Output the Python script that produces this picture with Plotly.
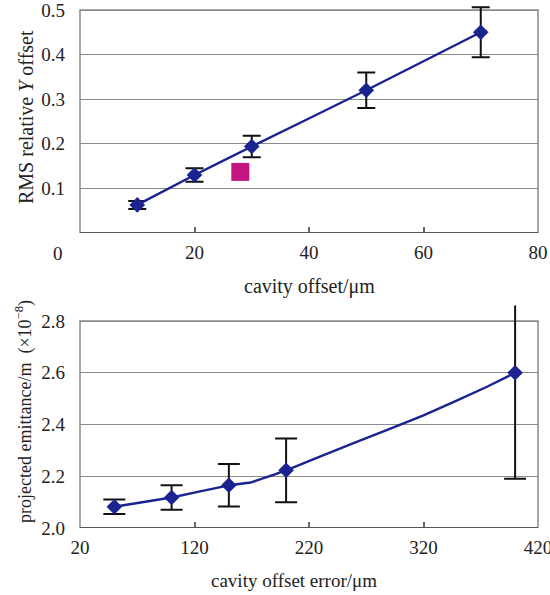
import plotly.graph_objects as go

# ---- data: top panel ----
top_x = [10, 20, 30, 50, 70]
top_y = [0.063, 0.130, 0.194, 0.320, 0.450]
top_err = [0.009, 0.015, 0.024, 0.040, 0.056]
top_extra_x = [28]
top_extra_y = [0.137]
top_xticks = [20, 40, 60, 80]
top_yticks = [0.1, 0.2, 0.3, 0.4, 0.5]

# ---- data: bottom panel ----
bot_x = [50, 100, 150, 200, 400]
bot_y = [2.082, 2.118, 2.165, 2.223, 2.600]
bot_err = [0.028, 0.047, 0.082, 0.123, 0.410]
bot_line_x = [50, 100, 150, 169, 200, 260, 320, 375, 400]
bot_line_y = [2.082, 2.118, 2.165, 2.176, 2.223, 2.330, 2.435, 2.545, 2.600]
bot_xticks = [20, 120, 220, 320, 420]
bot_yticks = [2.0, 2.2, 2.4, 2.6, 2.8]

NAVY = "#1a2390"
MAG = "#c4147f"
FONT = "Liberation Serif"
TXT = "#222222"

W, H = 550, 595
ML, MR, MT, MB = 80, 12, 3, 67

fig = go.Figure()

# top panel
fig.add_trace(go.Scatter(
    x=top_x, y=top_y, mode="lines+markers", xaxis="x", yaxis="y",
    line=dict(color=NAVY, width=2.4, shape="spline", smoothing=0.4),
    marker=dict(symbol="diamond", size=12, color=NAVY),
    error_y=dict(type="data", array=top_err, color="#111111", thickness=2, width=9),
    cliponaxis=False, showlegend=False))
fig.add_trace(go.Scatter(
    x=top_extra_x, y=top_extra_y, mode="markers", xaxis="x", yaxis="y",
    marker=dict(symbol="square", size=18, color=MAG),
    showlegend=False))

# bottom panel
fig.add_trace(go.Scatter(
    x=bot_line_x, y=bot_line_y, mode="lines", xaxis="x2", yaxis="y2",
    line=dict(color=NAVY, width=2.4, shape="spline", smoothing=0.2), showlegend=False))
fig.add_trace(go.Scatter(
    x=bot_x, y=bot_y, mode="markers", xaxis="x2", yaxis="y2",
    marker=dict(symbol="diamond", size=12, color=NAVY),
    error_y=dict(type="data", array=bot_err, color="#111111", thickness=2, width=11),
    cliponaxis=False, showlegend=False))

tickfont = dict(family=FONT, size=19, color=TXT)
axis_common = dict(showline=False, zeroline=False, tickfont=tickfont,
                   automargin=False, ticklabeloverflow="allow")

# axis ranges extend slightly above the framed area so that tall error bars show
TOP_YMAX = 0.5157
BOT_YMAX = 2.86

fig.update_layout(
    template="none",
    width=W, height=H,
    margin=dict(l=ML, r=MR, t=MT, b=MB),
    paper_bgcolor="white", plot_bgcolor="rgba(0,0,0,0)",
    font=dict(family=FONT, color=TXT),
    xaxis=dict(domain=[0, 1], anchor="y", range=[0, 80], tickvals=top_xticks,
               ticks="inside", ticklen=6, tickcolor="#666666", tickwidth=1.5,
               showgrid=False, ticklabelstandoff=6, **axis_common),
    yaxis=dict(domain=[0.5619, 1], anchor="x", range=[0, TOP_YMAX], tickvals=top_yticks,
               ticktext=["0.1", "0.2", "0.3", "0.4", "0.5"],
               showgrid=True, gridcolor="#8a8a8a", gridwidth=1, ticks="",
               ticklabelstandoff=14, **axis_common),
    xaxis2=dict(domain=[0, 1], anchor="y2", range=[20, 420], tickvals=bot_xticks,
                ticks="inside", ticklen=6, tickcolor="#666666", tickwidth=1.5,
                showgrid=False, ticklabelstandoff=6, **axis_common),
    yaxis2=dict(domain=[0, 0.4238], anchor="x2", range=[2.0, BOT_YMAX], tickvals=bot_yticks,
                ticktext=["2.0", "2.2", "2.4", "2.6", "2.8"],
                showgrid=True, gridcolor="#8a8a8a", gridwidth=1, ticks="",
                ticklabelstandoff=14, **axis_common),
)

# panel frames (top edge at the last tick value)
frames = [("x domain", "y", 0.0, top_yticks[-1]),
          ("x2 domain", "y2", bot_yticks[0], bot_yticks[-1])]
for xr, yr, y0, y1 in frames:
    fig.add_shape(type="rect", xref=xr, yref=yr, x0=0, x1=1, y0=y0, y1=y1,
                  line=dict(color="#8a8a8a", width=1.5), layer="below")
    fig.add_shape(type="line", xref=xr, yref=yr, x0=0, x1=1, y0=y0, y1=y0,
                  line=dict(color="#555555", width=2), layer="above")

# helpers: page pixel -> paper coordinate
PLOT_W = W - ML - MR
PLOT_H = H - MT - MB
def px_x(x):
    return (x - ML) / PLOT_W
def px_y(y):
    return (H - MB - y) / PLOT_H

# stray "0" label of the top panel
fig.add_annotation(text="0", xref="paper", yref="paper", x=px_x(58), y=px_y(253),
                   showarrow=False, font=dict(family=FONT, size=19, color=TXT),
                   xanchor="center", yanchor="middle")

# axis titles
fig.add_annotation(text="cavity offset/μm", xref="paper", yref="paper",
                   x=px_x(309), y=px_y(286), showarrow=False,
                   font=dict(family=FONT, size=20, color=TXT),
                   xanchor="center", yanchor="middle")
fig.add_annotation(text="RMS relative <i>Y</i> offset", xref="paper", yref="paper",
                   x=px_x(26), y=px_y(117), showarrow=False,
                   font=dict(family=FONT, size=20, color=TXT),
                   textangle=-90, xanchor="center", yanchor="middle")
fig.add_annotation(text="cavity offset error/μm", xref="paper", yref="paper",
                   x=px_x(294), y=px_y(580), showarrow=False,
                   font=dict(family=FONT, size=19, color=TXT),
                   xanchor="center", yanchor="middle")
fig.add_annotation(text="projected emittance/m  (×10<sup>−8</sup>)", xref="paper", yref="paper",
                   x=px_x(24), y=px_y(412), showarrow=False,
                   font=dict(family=FONT, size=18, color=TXT),
                   textangle=-90, xanchor="center", yanchor="middle")

# remove the browser's default page margin so the figure fills the window
fig.write_html("out.html", config={"displayModeBar": False},
               post_script="document.body.style.margin='0';")
